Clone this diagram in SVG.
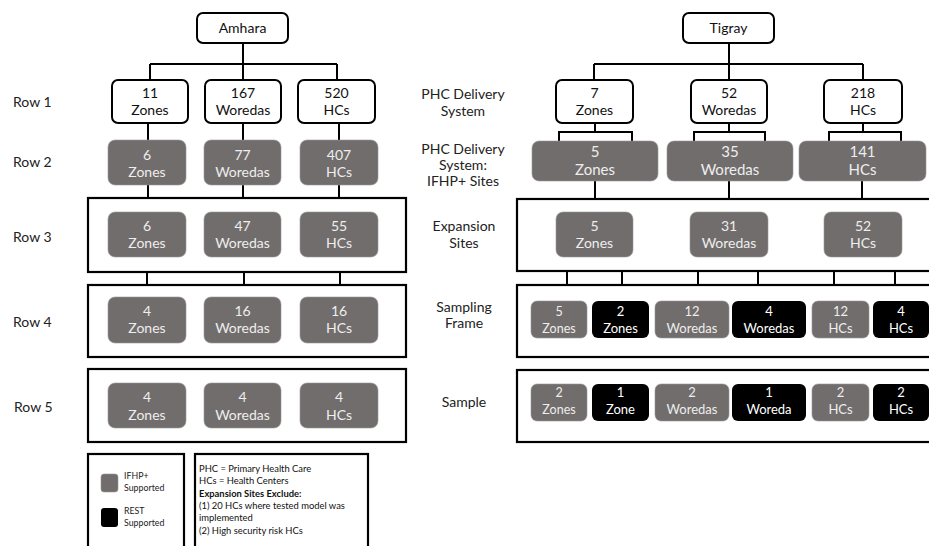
<svg xmlns="http://www.w3.org/2000/svg" width="929" height="546" viewBox="0 0 929 546">
<style>
  text { font-family: Lato, "Open Sans", "Liberation Sans", sans-serif; }
  .wb { fill: #ffffff; stroke: #000; stroke-width: 2; }
  .cont { fill: #ffffff; stroke: #000; stroke-width: 2.2; }
  .gb { fill: #716d6c; stroke: #999; stroke-width: 0.6; }
  .bb { fill: #000000; }
  .ln { fill: none; stroke: #000; stroke-width: 2; }
  .t { font-size: 14px; fill: #111; text-anchor: middle; }
  .tg { font-size: 14px; fill: #eeeeee; text-anchor: middle; }
  .tg15 { font-size: 15px; fill: #eeeeee; text-anchor: middle; }
  .ts { font-size: 13px; fill: #eeeeee; text-anchor: middle; }
  .tw { font-size: 13px; fill: #ffffff; text-anchor: middle; }
  .lbl { font-size: 14px; fill: #222; }
  .lblc { font-size: 14px; fill: #222; text-anchor: middle; }
  .leg { font-size: 8.8px; fill: #222; }
  .note { font-size: 9.4px; fill: #111; }
</style>

<!-- containers -->
<g id="containers">
  <rect class="cont" x="88" y="198" width="318" height="74"/>
  <rect class="cont" x="88" y="285" width="318" height="72"/>
  <rect class="cont" x="88" y="369" width="318" height="73"/>
  <rect class="cont" x="517" y="199" width="430" height="72"/>
  <rect class="cont" x="517" y="285" width="430" height="72"/>
  <rect class="cont" x="517" y="370" width="430" height="72"/>
</g>

<!-- connectors -->
<g id="connectors">
  <path class="ln" d="M243 43 V64 M150 64 H337 M150 64 V80 M243 64 V80 M337 64 V80"/>
  <path class="ln" d="M148 123 V140 M243 123 V140 M339 123 V140"/>
  <path class="ln" d="M148 185 V198 M243 185 V198 M339 185 V198"/>
  <path class="ln" d="M147 272 V285 M244 272 V285 M340 272 V285"/>
  <path class="ln" d="M729 43 V64 M594 64 H863 M594 64 V80 M729 64 V80 M863 64 V80"/>
  <path class="ln" d="M595 123 V132 M559 132 H632 M559 131 V141 M632 131 V141"/>
  <path class="ln" d="M729 123 V132 M694 132 H765 M694 131 V141 M765 131 V141"/>
  <path class="ln" d="M863 123 V132 M829 132 H901 M829 131 V141 M901 131 V141"/>
  <path class="ln" d="M595 181 V199 M729 181 V199 M862 181 V199"/>
  <path class="ln" d="M567 271 V285 M622 271 V285 M698 271 V285 M758 271 V285 M834 271 V285 M895 271 V285"/>
</g>

<!-- row labels -->
<g id="row-labels">
  <text class="lbl" x="13" y="107">Row 1</text>
  <text class="lbl" x="13" y="167">Row 2</text>
  <text class="lbl" x="13" y="242">Row 3</text>
  <text class="lbl" x="13" y="327">Row 4</text>
  <text class="lbl" x="14" y="412">Row 5</text>
</g>
<g id="stage-labels">
  <text class="lblc" x="463" y="99">PHC Delivery</text>
  <text class="lblc" x="463" y="116">System</text>
  <text class="lblc" x="463" y="154">PHC Delivery</text>
  <text class="lblc" x="463" y="170">System:</text>
  <text class="lblc" x="463" y="186">IFHP+ Sites</text>
  <text class="lblc" x="464" y="231">Expansion</text>
  <text class="lblc" x="464" y="248">Sites</text>
  <text class="lblc" x="464" y="312">Sampling</text>
  <text class="lblc" x="464" y="328">Frame</text>
  <text class="lblc" x="464" y="407">Sample</text>
</g>

<!-- Amhara -->
<g id="amhara">
  <rect class="wb" x="197" y="13" width="91" height="30" rx="6"/>
  <text class="t" x="242.5" y="33">Amhara</text>
</g>
<g id="a-r1-zones"><rect class="wb" x="112" y="80" width="76" height="43" rx="6"/><text class="t" x="150" y="98">11</text><text class="t" x="150" y="115">Zones</text></g>
<g id="a-r1-woredas"><rect class="wb" x="205" y="80" width="76" height="43" rx="6"/><text class="t" x="243" y="98">167</text><text class="t" x="243" y="115">Woredas</text></g>
<g id="a-r1-hcs"><rect class="wb" x="298" y="80" width="77" height="43" rx="6"/><text class="t" x="336.5" y="98">520</text><text class="t" x="336.5" y="115">HCs</text></g>

<g id="a-r2-zones"><rect class="gb" x="108" y="140" width="78" height="45" rx="7"/><text class="tg" x="147" y="160">6</text><text class="tg" x="147" y="177">Zones</text></g>
<g id="a-r2-woredas"><rect class="gb" x="204" y="140" width="77" height="45" rx="7"/><text class="tg" x="242.5" y="160">77</text><text class="tg" x="242.5" y="177">Woredas</text></g>
<g id="a-r2-hcs"><rect class="gb" x="300" y="140" width="78" height="45" rx="7"/><text class="tg" x="339" y="160">407</text><text class="tg" x="339" y="177">HCs</text></g>

<g id="a-r3-zones"><rect class="gb" x="108" y="212" width="78" height="45" rx="7"/><text class="tg" x="147" y="231">6</text><text class="tg" x="147" y="248">Zones</text></g>
<g id="a-r3-woredas"><rect class="gb" x="204" y="212" width="77" height="45" rx="7"/><text class="tg" x="242.5" y="231">47</text><text class="tg" x="242.5" y="248">Woredas</text></g>
<g id="a-r3-hcs"><rect class="gb" x="300" y="212" width="78" height="45" rx="7"/><text class="tg" x="339" y="231">55</text><text class="tg" x="339" y="248">HCs</text></g>

<g id="a-r4-zones"><rect class="gb" x="108" y="297" width="78" height="46" rx="7"/><text class="tg" x="147" y="316">4</text><text class="tg" x="147" y="333">Zones</text></g>
<g id="a-r4-woredas"><rect class="gb" x="204" y="297" width="77" height="46" rx="7"/><text class="tg" x="242.5" y="316">16</text><text class="tg" x="242.5" y="333">Woredas</text></g>
<g id="a-r4-hcs"><rect class="gb" x="300" y="297" width="78" height="46" rx="7"/><text class="tg" x="339" y="316">16</text><text class="tg" x="339" y="333">HCs</text></g>

<g id="a-r5-zones"><rect class="gb" x="108" y="383" width="78" height="45" rx="7"/><text class="tg" x="147" y="402">4</text><text class="tg" x="147" y="420">Zones</text></g>
<g id="a-r5-woredas"><rect class="gb" x="204" y="383" width="77" height="45" rx="7"/><text class="tg" x="242.5" y="402">4</text><text class="tg" x="242.5" y="420">Woredas</text></g>
<g id="a-r5-hcs"><rect class="gb" x="300" y="383" width="78" height="45" rx="7"/><text class="tg" x="339" y="402">4</text><text class="tg" x="339" y="420">HCs</text></g>

<!-- Tigray -->
<g id="tigray">
  <rect class="wb" x="683" y="13" width="91" height="30" rx="6"/>
  <text class="t" x="728.5" y="33">Tigray</text>
</g>
<g id="t-r1-zones"><rect class="wb" x="556" y="80" width="77" height="43" rx="6"/><text class="t" x="594.5" y="98">7</text><text class="t" x="594.5" y="115">Zones</text></g>
<g id="t-r1-woredas"><rect class="wb" x="691" y="80" width="76" height="43" rx="6"/><text class="t" x="729" y="98">52</text><text class="t" x="729" y="115">Woredas</text></g>
<g id="t-r1-hcs"><rect class="wb" x="824" y="80" width="78" height="43" rx="6"/><text class="t" x="863" y="98">218</text><text class="t" x="863" y="115">HCs</text></g>

<g id="t-r2-zones"><rect class="gb" x="532" y="141" width="126" height="40" rx="7"/><text class="tg15" x="595" y="157">5</text><text class="tg15" x="595" y="175">Zones</text></g>
<g id="t-r2-woredas"><rect class="gb" x="667" y="141" width="126" height="40" rx="7"/><text class="tg15" x="730" y="157">35</text><text class="tg15" x="730" y="175">Woredas</text></g>
<g id="t-r2-hcs"><rect class="gb" x="799" y="141" width="127" height="40" rx="7"/><text class="tg15" x="862.5" y="157">141</text><text class="tg15" x="862.5" y="175">HCs</text></g>

<g id="t-r3-zones"><rect class="gb" x="556" y="212" width="77" height="45" rx="7"/><text class="tg" x="594.5" y="231">5</text><text class="tg" x="594.5" y="248">Zones</text></g>
<g id="t-r3-woredas"><rect class="gb" x="690" y="212" width="78" height="45" rx="7"/><text class="tg" x="729" y="231">31</text><text class="tg" x="729" y="248">Woredas</text></g>
<g id="t-r3-hcs"><rect class="gb" x="824" y="212" width="78" height="45" rx="7"/><text class="tg" x="863" y="231">52</text><text class="tg" x="863" y="248">HCs</text></g>

<g id="t-r4-zones-ifhp"><rect class="gb" x="531" y="301" width="56" height="37" rx="6"/><text class="ts" x="559" y="316" style="font-size:12.5px">5</text><text class="ts" x="559" y="333" style="font-size:12.5px">Zones</text></g>
<g id="t-r4-zones-rest"><rect class="bb" x="592" y="301" width="57" height="37" rx="6"/><text class="tw" x="620.5" y="316">2</text><text class="tw" x="620.5" y="333">Zones</text></g>
<g id="t-r4-woredas-ifhp"><rect class="gb" x="655" y="301" width="74" height="37" rx="6"/><text class="ts" x="692" y="316">12</text><text class="ts" x="692" y="333">Woredas</text></g>
<g id="t-r4-woredas-rest"><rect class="bb" x="732" y="301" width="74" height="37" rx="6"/><text class="tw" x="769" y="316">4</text><text class="tw" x="769" y="333">Woredas</text></g>
<g id="t-r4-hcs-ifhp"><rect class="gb" x="812" y="301" width="57" height="37" rx="6"/><text class="ts" x="840.5" y="316">12</text><text class="ts" x="840.5" y="333">HCs</text></g>
<g id="t-r4-hcs-rest"><rect class="bb" x="873" y="301" width="56" height="37" rx="6"/><text class="tw" x="901" y="316">4</text><text class="tw" x="901" y="333">HCs</text></g>

<g id="t-r5-zones-ifhp"><rect class="gb" x="531" y="384" width="56" height="37" rx="6"/><text class="ts" x="559" y="397" style="font-size:12.5px">2</text><text class="ts" x="559" y="414" style="font-size:12.5px">Zones</text></g>
<g id="t-r5-zones-rest"><rect class="bb" x="592" y="384" width="57" height="37" rx="6"/><text class="tw" x="620.5" y="397">1</text><text class="tw" x="620.5" y="414">Zone</text></g>
<g id="t-r5-woredas-ifhp"><rect class="gb" x="655" y="384" width="74" height="37" rx="6"/><text class="ts" x="692" y="397">2</text><text class="ts" x="692" y="414">Woredas</text></g>
<g id="t-r5-woredas-rest"><rect class="bb" x="732" y="384" width="74" height="37" rx="6"/><text class="tw" x="769" y="397">1</text><text class="tw" x="769" y="414">Woreda</text></g>
<g id="t-r5-hcs-ifhp"><rect class="gb" x="812" y="384" width="57" height="37" rx="6"/><text class="ts" x="840.5" y="397">2</text><text class="ts" x="840.5" y="414">HCs</text></g>
<g id="t-r5-hcs-rest"><rect class="bb" x="873" y="384" width="56" height="37" rx="6"/><text class="tw" x="901" y="397">2</text><text class="tw" x="901" y="414">HCs</text></g>

<!-- legend -->
<g id="legend-colors">
  <rect class="cont" x="88" y="454" width="96" height="100"/>
  <rect class="gb" x="101" y="474" width="17" height="18" rx="3"/>
  <text class="leg" x="124" y="479">IFHP+</text>
  <text class="leg" x="124" y="491">Supported</text>
  <rect class="bb" x="101" y="508" width="17" height="19" rx="3"/>
  <text class="leg" x="124" y="514">REST</text>
  <text class="leg" x="124" y="526">Supported</text>
</g>
<g id="legend-notes">
  <rect class="cont" x="195" y="454" width="173" height="100"/>
  <text class="note" x="199" y="472">PHC = Primary Health Care</text>
  <text class="note" x="199" y="484">HCs = Health Centers</text>
  <text class="note" x="199" y="497" font-weight="bold">Expansion Sites Exclude:</text>
  <text class="note" x="199" y="509">(1) 20 HCs where tested model was</text>
  <text class="note" x="199" y="521">implemented</text>
  <text class="note" x="199" y="534">(2) High security risk HCs</text>
</g>
</svg>
